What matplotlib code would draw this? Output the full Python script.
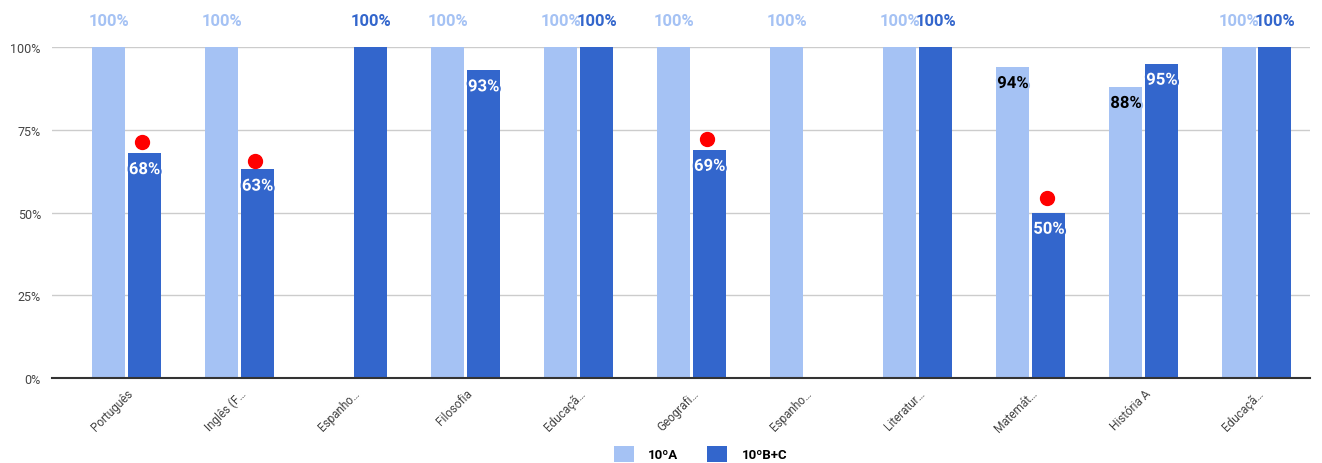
import numpy as np
import matplotlib
matplotlib.use("Agg")
import matplotlib.pyplot as plt
import matplotlib.patheffects as pe
from matplotlib.patches import Patch

plt.rcParams['font.family'] = ['Roboto', 'DejaVu Sans']

# data
subjects = ["Português", "Inglês (F…", "Espanho…", "Filosofia", "Educaçã…", "Geografi…",
            "Espanho…", "Literatur…", "Matemát…", "História A", "Educaçã…"]
turma_a = [100, 100, np.nan, 100, 100, 100, 100, 100, 94, 88, 100]
turma_bc = [68, 63, 100, 93, 100, 69, np.nan, 100, 50, 95, 100]
target_bc = [71.3, 65.6, np.nan, np.nan, np.nan, 72.2, np.nan, np.nan, 54.4, np.nan, np.nan]
series_names = ["10ºA", "10ºB+C"]

light = "#a5c2f4"
dark = "#3366cc"

fig = plt.figure(figsize=(13.22, 4.64), dpi=100)
ax = fig.add_axes([0.0393, 0.183, 0.9517, 0.7136])

x = np.arange(len(subjects))
w = 0.292
off = 0.159
ax.bar(x - off, turma_a, width=w, color=light, zorder=2)
ax.bar(x + off, turma_bc, width=w, color=dark, zorder=2)
ax.plot(x + off - 0.02, target_bc, "o", color="#ff0000", markersize=10, zorder=4, linestyle="none")

# data labels
for vals, dx, col, txtcol in [(turma_a, -off, light, "black"), (turma_bc, off, dark, "white")]:
    for xi, v in zip(x, vals):
        if np.isnan(v):
            continue
        if v >= 100:
            ax.annotate(f"{v:.0f}%", (xi + dx, v), xytext=(0, 19), textcoords="offset points",
                        ha="center", va="center", fontsize=12, fontweight="bold", color=col,
                        annotation_clip=False)
        else:
            ax.annotate(f"{v:.0f}%", (xi + dx, v), xytext=(0, -12), textcoords="offset points",
                        ha="center", va="center", fontsize=12, fontweight="bold", color=txtcol,
                        zorder=5, path_effects=[pe.withStroke(linewidth=3, foreground=col)])

ax.set_xlim(-0.66, 10.47)
ax.set_ylim(0, 100)
ax.set_yticks([0, 25, 50, 75, 100])
ax.set_yticklabels(["0%", "25%", "50%", "75%", "100%"], fontsize=9, color="#444444")
ax.yaxis.grid(True, color="#cccccc", linewidth=1, zorder=0)
ax.set_axisbelow(True)
ax.tick_params(axis="y", length=0, pad=8)
ax.tick_params(axis="x", length=0, pad=6)
ax.set_xticks(x)
ax.set_xticklabels(subjects, rotation=45, ha="right", rotation_mode="anchor",
                   fontsize=8.5, color="#444444")
for s in ["top", "right", "left"]:
    ax.spines[s].set_visible(False)
ax.spines["bottom"].set_color("#333333")
ax.spines["bottom"].set_linewidth(1.5)
ax.spines["bottom"].set_zorder(3)

handles = [Patch(facecolor=light, label=series_names[0]),
           Patch(facecolor=dark, label=series_names[1])]
leg = fig.legend(handles=handles, loc="center", bbox_to_anchor=(0.53, 0.02), ncol=2,
                 frameon=False, handlelength=1.5, handleheight=1.5, columnspacing=2.2,
                 handletextpad=1.1, prop={"weight": "bold", "size": 9.5})

fig.savefig("out.png", dpi=100)
